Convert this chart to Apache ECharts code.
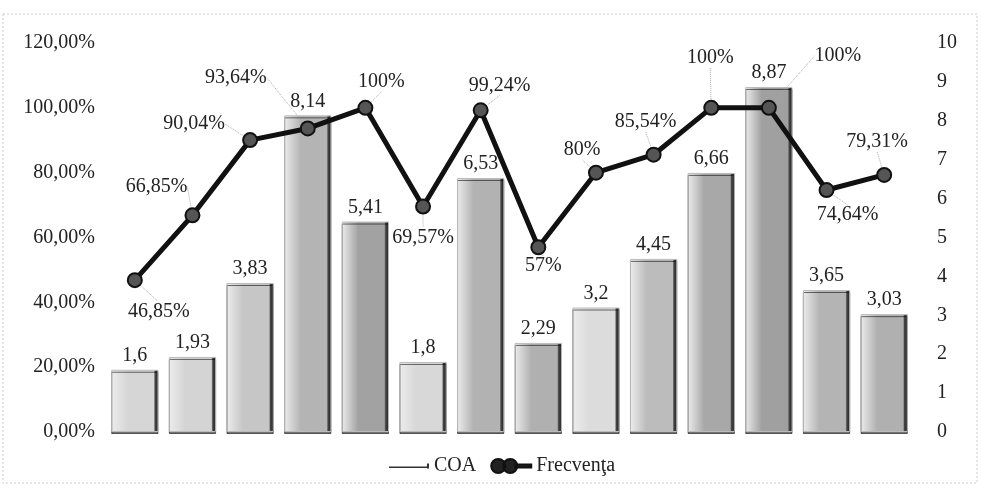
<!DOCTYPE html>
<html>
<head>
<meta charset="utf-8">
<script src="https://cdn.jsdelivr.net/npm/echarts@6/dist/echarts.min.js"></script>
<style>
  html, body { margin: 0; padding: 0; background: #fff; }
  #chart { width: 981px; height: 492px; }
</style>
</head>
<body>
<div id="chart"></div>
<script>
// Categories (one per period) and the two series
const categories = ['1', '2', '3', '4', '5', '6', '7', '8', '9', '10', '11', '12', '13', '14'];
const coaValues = [1.6, 1.93, 3.83, 8.14, 5.41, 1.8, 6.53, 2.29, 3.2, 4.45, 6.66, 8.87, 3.65, 3.03];
const frecventaValues = [46.85, 66.85, 90.04, 93.64, 100, 69.57, 99.24, 57, 80, 85.54, 100, 100, 74.64, 79.31];
const seriesNames = ['COA', 'Frecvenţa'];

// Per-bar grey shade (style only)
const barShades = ['#d6d6d6', '#d4d4d4', '#c6c6c6', '#b4b4b4', '#a2a2a2', '#d8d8d8', '#b2b2b2',
                   '#b0b0b0', '#dcdcdc', '#bcbcbc', '#a8a8a8', '#a0a0a0', '#b4b4b4', '#b0b0b0'];
// Label offsets for the line points (style only)
const labelShift = [[24, 32], [-36, -29], [-56, -16], [-72, -51], [16, -26], [0, 31], [19, -25],
                    [5, 19], [-14, -23], [-8, -33], [-1, -50], [69, -52], [21, 25], [-7, -33]];

const fmt = v => String(v).replace('.', ',');
const font = 'Liberation Serif';
const fs = 20;

const chart = echarts.init(document.getElementById('chart'), null, { renderer: 'canvas' });

chart.setOption({
  backgroundColor: '#fff',
  animation: false,
  textStyle: { fontFamily: font },
  grid: { left: 106, right: 68, top: 43, bottom: 60 },
  legend: {
    bottom: 11,
    left: 384,
    itemGap: 14,
    itemWidth: 40,
    itemHeight: 14,
    textStyle: { fontFamily: font, fontSize: fs, color: '#222' },
    data: [
      { name: seriesNames[0], icon: 'path://M0,6.5 L38,6.5 L38,8 L0,8 Z M37,3.5 L39,3.5 L39,8.5 L37,8.5 Z', itemStyle: { color: '#333' } },
      { name: seriesNames[1], icon: 'path://M0,7 A7,7 0 1,0 14,7 A7,7 0 1,0 0,7 Z M12,7 A7,7 0 1,0 26,7 A7,7 0 1,0 12,7 Z M24,5.5 L40,5.5 L40,8.5 L24,8.5 Z', itemStyle: { color: '#222' } }
    ]
  },
  xAxis: {
    type: 'category',
    data: categories,
    axisLine: { show: false },
    axisTick: { show: false },
    axisLabel: { show: false }
  },
  yAxis: [
    {
      type: 'value',
      min: 0, max: 120, interval: 20,
      position: 'left',
      splitLine: { show: false },
      axisLine: { show: false },
      axisTick: { show: false },
      axisLabel: {
        fontFamily: font, fontSize: fs, color: '#222', margin: 11,
        formatter: v => v + ',00%'
      }
    },
    {
      type: 'value',
      min: 0, max: 10, interval: 1,
      position: 'right',
      splitLine: { show: false },
      axisLine: { show: false },
      axisTick: { show: false },
      axisLabel: { fontFamily: font, fontSize: fs, color: '#222', margin: 24 }
    }
  ],
  series: [
    {
      name: seriesNames[0],
      type: 'bar',
      yAxisIndex: 1,
      barCategoryGap: '18%',
      data: coaValues.map((v, i) => ({
        value: v,
        itemStyle: {
          color: new echarts.graphic.LinearGradient(0, 0, 1, 0, [
            { offset: 0, color: '#ececec' },
            { offset: 0.35, color: barShades[i] },
            { offset: 0.9, color: barShades[i] },
            { offset: 0.93, color: '#444' },
            { offset: 1, color: '#222' }
          ]),
          borderColor: '#bbb',
          borderWidth: 1,
          shadowColor: 'rgba(0,0,0,0.55)',
          shadowOffsetY: 2,
          shadowOffsetX: 0,
          shadowBlur: 0
        }
      })),
      label: {
        show: true,
        position: 'top',
        distance: 4,
        fontFamily: font,
        fontSize: fs,
        color: '#222',
        formatter: p => fmt(p.value)
      },
      z: 2
    },
    {
      name: seriesNames[1],
      type: 'line',
      yAxisIndex: 0,
      data: frecventaValues,
      symbol: 'circle',
      symbolSize: 14,
      lineStyle: { color: '#111', width: 5 },
      itemStyle: { color: '#555', borderColor: '#111', borderWidth: 2 },
      label: {
        show: true,
        position: 'inside',
        fontFamily: font,
        fontSize: fs,
        color: '#222',
        formatter: p => fmt(p.value) + '%'
      },
      labelLine: {
        show: true,
        lineStyle: { color: '#aaa', width: 1, type: 'dotted' }
      },
      labelLayout: p => ({ dx: labelShift[p.dataIndex][0], dy: labelShift[p.dataIndex][1] }),
      z: 5
    }
  ],
  graphic: [
    {
      type: 'rect',
      shape: { x: 3, y: 14, width: 974, height: 469 },
      style: { fill: 'none', stroke: '#ccc', lineWidth: 1, lineDash: [2, 2] },
      silent: true
    }
  ]
});
</script>
</body>
</html>
